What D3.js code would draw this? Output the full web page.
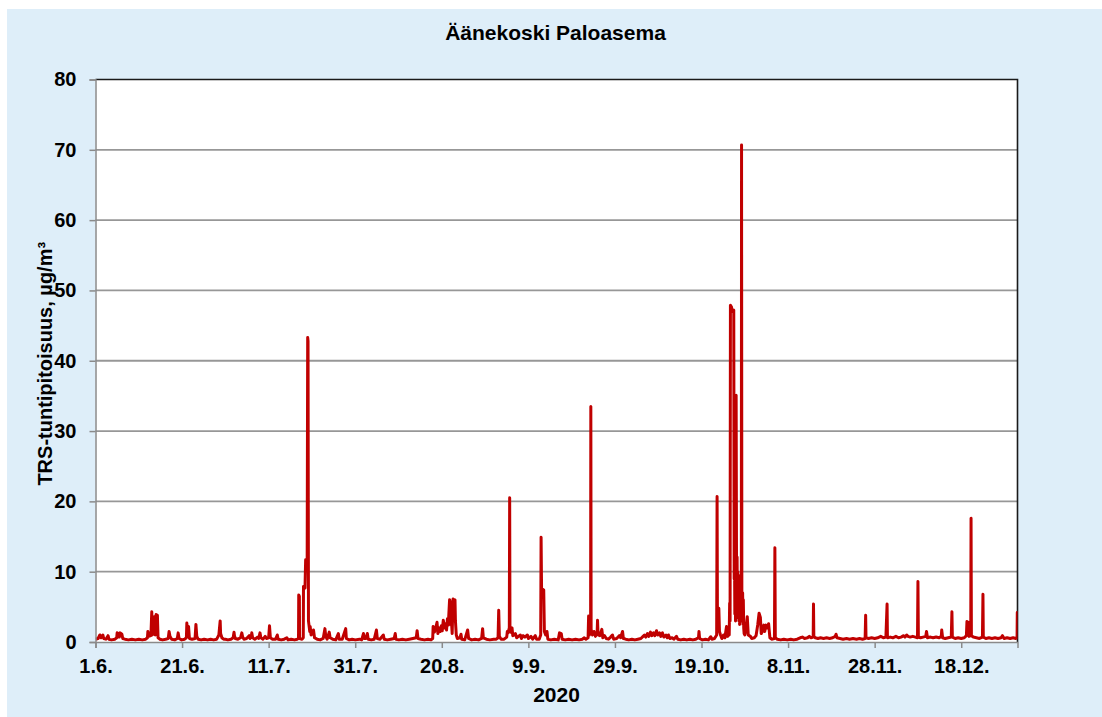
<!DOCTYPE html>
<html>
<head>
<meta charset="utf-8">
<script src="https://cdn.jsdelivr.net/npm/d3@7"></script>
<style>
  html, body { margin: 0; padding: 0; background: #ffffff; }
  svg { display: block; }
  text { font-family: "Liberation Sans", Arial, sans-serif; font-weight: bold; fill: #000; }
</style>
</head>
<body>
<svg id="chart" width="1102" height="717"></svg>
<script>
// Hourly TRS concentration, Äänekoski fire station, summer–winter 2020
const chartTitle = "Äänekoski Paloasema";
const yTitle = "TRS-tuntipitoisuus, µg/m³";
const xTitle = "2020";
const year = 2020;
const yTicks = [0, 10, 20, 30, 40, 50, 60, 70, 80];
const xTickLabels = ["1.6.", "21.6.", "11.7.", "31.7.", "20.8.", "9.9.", "29.9.", "19.10.", "8.11.", "28.11.", "18.12."];

// Readings per month: [day of month (fractional = time of day), µg/m³]
const june = [
  [1.0,0.4],[1.6,0.5],[2.0,1.0],[2.3,0.6],[2.7,1.0],[2.9,0.5],[3.4,0.4],[3.9,0.9],[4.1,0.4],[4.7,0.3],
  [5.5,0.4],[5.9,0.6],[6.0,1.3],[6.3,1.2],[6.5,0.7],[6.7,1.3],[7.1,1.1],[7.3,0.5],[7.8,0.4],[8.6,0.3],
  [9.4,0.4],[10.2,0.3],[11.0,0.4],[11.8,0.3],[12.6,0.4],[13.0,0.6],[13.1,1.5],[13.3,0.8],[13.8,0.9],[14.0,4.3],
  [14.1,1.0],[14.4,1.2],[14.6,3.6],[14.8,1.0],[15.0,3.9],[15.3,3.8],[15.45,0.6],[15.9,0.4],[16.5,0.3],[17.2,0.4],
  [17.8,0.5],[18.0,1.5],[18.2,0.8],[18.6,0.4],[19.3,0.3],[19.9,0.5],[20.1,1.3],[20.3,0.5],[20.9,0.3],[21.6,0.4],
  [22.0,0.6],[22.1,2.7],[22.3,1.0],[22.5,2.2],[22.7,0.5],[23.3,0.4],[24.0,0.5],[24.2,2.5],[24.4,0.8],[24.7,0.4],
  [25.4,0.3],[26.1,0.4],[26.9,0.3],[27.6,0.4],[28.3,0.3],[29.0,0.4],[29.5,1.0],[29.8,3.0],[29.9,1.2],[30.2,0.6],
  [30.6,0.4]
];
const july = [
  [1.0,0.4],[1.6,0.3],[2.3,0.4],[2.8,0.6],[3.0,1.4],[3.1,0.9],[3.3,0.5],[3.9,0.4],[4.5,0.6],[4.8,1.3],
  [5.0,0.7],[5.3,0.4],[5.9,0.5],[6.5,0.9],[6.7,0.5],[7.0,0.8],[7.1,1.3],[7.3,0.6],[7.8,0.4],[8.5,0.7],
  [8.7,0.5],[9.0,1.3],[9.2,0.6],[9.7,0.4],[10.2,0.8],[10.5,0.5],[11.0,0.6],[11.2,2.3],[11.4,0.6],[11.9,0.4],
  [12.6,0.4],[13.0,1.0],[13.2,0.4],[13.9,0.3],[14.6,0.4],[15.2,0.6],[15.5,0.3],[16.2,0.4],[17.0,0.3],[17.6,0.4],
  [17.9,0.5],[17.95,6.7],[18.1,6.5],[18.15,0.5],[18.7,0.4],[19.0,0.6],[19.05,7.9],[19.4,7.7],[19.55,11.7],[19.9,11.0],
  [20.02,43.3],[20.1,42.8],[20.2,3.0],[20.5,1.5],[20.6,2.2],[20.8,1.0],[21.1,1.2],[21.36,1.7],[21.6,0.6],[22.2,0.4],
  [22.9,0.3],[23.6,0.5],[24.0,1.9],[24.2,0.8],[24.5,0.4],[25.0,1.4],[25.2,0.6],[25.8,0.4],[26.5,0.3],[27.1,1.2],
  [27.3,0.4],[28.0,0.4],[28.8,1.9],[28.95,0.5],[29.6,0.3],[30.3,0.4],[31.0,0.3]
];
const august = [
  [1.0,0.4],[1.5,0.3],[1.9,1.2],[2.1,0.5],[2.5,0.5],[2.8,1.2],[3.0,0.4],[3.7,0.3],[4.4,0.4],[4.9,1.7],
  [5.1,0.5],[5.7,0.4],[6.5,1.0],[6.7,0.4],[7.4,0.3],[8.2,0.4],[9.0,0.5],[9.25,1.2],[9.4,0.4],[10.1,0.3],
  [10.9,0.4],[11.7,0.3],[12.5,0.4],[13.3,0.5],[14.1,0.6],[14.3,1.6],[14.5,0.5],[15.2,0.4],[16.0,0.3],[16.8,0.4],
  [17.5,0.3],[17.9,0.5],[18.0,2.2],[18.3,1.4],[18.6,2.0],[18.9,2.8],[19.1,1.2],[19.4,2.0],[19.65,1.5],[19.9,2.3],
  [20.1,1.6],[20.35,3.1],[20.6,2.0],[20.9,2.6],[21.1,1.7],[21.3,3.3],[21.5,2.4],[21.8,6.0],[21.9,5.8],[22.0,2.5],
  [22.2,3.3],[22.4,1.2],[22.6,6.1],[22.8,5.5],[23.05,6.0],[23.15,3.0],[23.35,1.0],[23.6,0.5],[24.2,0.6],[24.44,1.1],
  [24.6,0.4],[25.3,0.3],[25.97,1.7],[26.2,0.5],[26.9,0.3],[27.7,0.4],[28.5,0.3],[29.2,0.5],[29.43,1.9],[29.6,0.6],
  [30.3,0.4],[31.1,0.3]
];
const september = [
  [1.0,0.4],[1.6,0.4],[2.0,0.6],[2.15,4.5],[2.3,0.8],[2.7,0.4],[3.4,0.4],[4.0,0.7],[4.14,1.5],[4.3,1.3],
  [4.6,2.0],[4.68,20.5],[4.75,2.2],[4.9,1.4],[5.23,2.0],[5.4,0.9],[5.7,1.0],[6.0,1.2],[6.3,0.6],[6.7,0.8],
  [7.15,1.0],[7.4,0.5],[7.8,0.9],[8.2,0.7],[8.77,1.0],[9.0,0.5],[9.6,0.8],[10.0,0.4],[10.6,0.9],[10.9,0.4],
  [11.5,0.4],[11.85,1.0],[11.94,14.9],[12.05,7.6],[12.55,7.4],[12.7,1.5],[13.0,1.0],[13.3,1.5],[13.5,0.4],[14.2,0.3],
  [15.0,0.4],[15.9,0.3],[16.2,1.3],[16.6,1.2],[16.8,0.4],[17.5,0.3],[18.3,0.4],[19.1,0.3],[19.9,0.4],[20.7,0.3],
  [21.5,0.4],[21.86,0.6],[22.3,0.4],[22.8,0.6],[22.92,3.7],[23.1,1.0],[23.38,1.5],[23.43,33.5],[23.5,1.8],[23.8,1.0],
  [24.17,1.5],[24.5,0.8],[24.9,1.5],[24.98,3.1],[25.1,1.0],[25.5,0.9],[25.97,1.8],[26.2,0.6],[26.6,0.9],[27.0,0.5],
  [27.5,0.4],[28.0,0.7],[28.42,1.0],[28.7,0.4],[29.4,0.5],[30.0,0.9],[30.3,0.6],[30.76,1.5],[30.95,0.5]
];
const october = [
  [1.0,0.5],[1.5,0.4],[2.2,0.3],[2.9,0.4],[3.6,0.3],[4.3,0.4],[5.0,0.5],[5.5,0.8],[5.82,1.0],[6.1,0.7],
  [6.5,1.2],[6.8,0.8],[7.21,1.4],[7.5,0.9],[7.9,1.3],[8.2,0.9],[8.6,1.6],[8.9,1.0],[9.3,1.3],[9.6,0.8],
  [9.98,1.3],[10.3,0.7],[10.8,1.0],[11.1,0.6],[11.37,1.0],[11.7,0.5],[12.2,0.6],[12.6,0.4],[13.22,0.8],[13.5,0.4],
  [14.2,0.3],[14.9,0.4],[15.6,0.3],[16.3,0.4],[17.0,0.3],[17.7,0.4],[18.3,0.6],[18.42,1.5],[18.55,0.5],[19.2,0.3],
  [19.9,0.4],[20.6,0.3],[21.13,0.75],[21.4,0.4],[22.0,0.5],[22.5,1.0],[22.6,20.7],[22.68,3.0],[23.0,4.8],[23.15,1.5],
  [23.39,1.0],[23.7,0.5],[24.09,1.0],[24.4,0.6],[24.78,2.2],[25.0,0.8],[25.3,1.0],[25.4,1.0],[25.5,5.5],[25.6,3.0],
  [25.68,47.9],[25.95,47.6],[26.05,47.0],[26.45,47.2],[26.55,9.0],[26.62,12.6],[26.7,4.0],[26.78,11.0],[26.86,3.0],[26.94,10.5],
  [27.0,35.1],[27.08,13.0],[27.15,5.0],[27.22,12.1],[27.3,3.5],[27.38,10.0],[27.46,4.0],[27.55,9.5],[27.64,3.0],[27.72,6.4],
  [27.8,2.5],[27.9,7.0],[28.0,3.0],[28.1,6.0],[28.2,4.0],[28.25,70.7],[28.32,6.5],[28.4,3.0],[28.5,7.0],[28.58,2.5],
  [28.66,6.0],[28.75,2.0],[28.85,1.2],[29.0,1.0],[29.3,2.0],[29.57,3.6],[29.8,1.0],[30.3,0.8],[30.6,0.5],[31.2,0.6],
  [31.6,0.9]
];
const november = [
  [1.0,2.5],[1.3,4.1],[1.6,3.5],[1.8,1.2],[2.1,1.6],[2.4,2.4],[2.6,1.5],[2.9,2.4],[3.2,2.0],[3.5,2.6],
  [3.8,0.6],[4.2,0.4],[4.85,0.5],[4.95,13.4],[5.05,0.6],[5.5,0.4],[6.3,0.3],[7.0,0.4],[7.8,0.3],[8.6,0.4],
  [9.3,0.3],[10.1,0.4],[10.8,0.6],[11.3,0.7],[11.8,0.5],[12.5,0.6],[12.9,0.8],[13.3,0.6],[13.8,0.7],[13.87,5.4],
  [13.95,0.8],[14.3,0.6],[14.9,0.5],[15.5,0.6],[16.2,0.5],[16.9,0.6],[17.6,0.5],[18.3,0.6],[18.9,0.8],[19.08,1.1],
  [19.3,0.6],[20.0,0.5],[20.7,0.4],[21.5,0.5],[22.2,0.4],[23.0,0.5],[23.8,0.4],[24.5,0.5],[25.2,0.4],[25.8,0.5],
  [25.92,3.8],[26.0,0.6],[26.6,0.5],[27.3,0.6],[28.0,0.5],[28.7,0.6],[29.4,0.8],[30.0,0.6],[30.6,0.7],[30.87,5.4],
  [30.95,0.8]
];
const december = [
  [1.0,0.6],[1.6,0.7],[2.2,0.6],[2.9,0.8],[3.5,0.6],[4.1,0.7],[4.7,0.9],[5.0,0.7],[5.4,1.0],[5.7,0.8],
  [6.2,0.7],[6.8,0.8],[7.4,0.7],[7.9,0.6],[8.0,8.6],[8.1,0.7],[8.6,0.6],[9.2,0.7],[9.8,0.8],[9.98,1.5],
  [10.2,0.6],[10.9,0.7],[11.5,0.6],[12.2,0.7],[12.9,0.6],[13.4,0.8],[13.49,1.7],[13.7,0.6],[14.3,0.5],[15.0,0.6],
  [15.7,0.7],[15.85,4.3],[15.95,0.7],[16.6,0.5],[17.3,0.6],[18.0,0.5],[18.7,0.6],[19.2,0.9],[19.32,2.9],[19.5,1.0],
  [19.66,2.8],[19.8,0.8],[20.2,0.9],[20.27,17.6],[20.35,0.9],[20.8,0.7],[21.5,0.6],[22.2,0.5],[22.9,0.7],[23.02,6.8],
  [23.1,0.7],[23.7,0.5],[24.4,0.6],[25.1,0.5],[25.8,0.6],[26.5,0.5],[27.2,0.6],[27.53,0.9],[27.9,0.5],[28.6,0.6],
  [29.3,0.5],[30.0,0.6],[30.6,0.5],[30.9,0.6],[30.95,4.2],[31.0,4.0]
];

const monthSeries = [[5, june], [6, july], [7, august], [8, september], [9, october], [10, november], [11, december]];

const DAY = 86400000;
const readings = monthSeries.flatMap(([m, rows]) =>
  rows.map(([d, v]) => ({ t: new Date(Date.UTC(year, m, 1) + (d - 1) * DAY), v }))
);

const tickDates = xTickLabels.map(s => {
  const [d, m] = s.split(".").map(Number);
  return new Date(Date.UTC(year, m - 1, d));
});

// Layout
const svg = d3.select("#chart");
const W = 1102, H = 717;
const plot = { left: 95.5, top: 79.5, right: 1017.5, bottom: 642 };

svg.append("rect").attr("x", 0).attr("y", 0).attr("width", W).attr("height", H).attr("fill", "#ffffff");
svg.append("rect").attr("x", 7).attr("y", 9).attr("width", W - 7).attr("height", H - 9).attr("fill", "#DEEEF9");

const x = d3.scaleUtc()
  .domain([new Date(Date.UTC(year, 5, 1)), new Date(Date.UTC(year, 11, 31))])
  .range([plot.left, plot.right]);
const y = d3.scaleLinear().domain([0, 80]).range([plot.bottom, plot.top]);

svg.append("rect")
  .attr("x", plot.left).attr("y", plot.top)
  .attr("width", plot.right - plot.left).attr("height", plot.bottom - plot.top)
  .attr("fill", "#ffffff");

// Horizontal gridlines
svg.append("g").selectAll("line")
  .data(yTicks.filter(v => v > 0 && v < 80))
  .join("line")
  .attr("x1", plot.left).attr("x2", plot.right)
  .attr("y1", d => y(d)).attr("y2", d => y(d))
  .attr("stroke", "#979797").attr("stroke-width", 1.8);

// Plot frame (top and right)
svg.append("path")
  .attr("d", `M${plot.left},${plot.top}H${plot.right}V${plot.bottom}`)
  .attr("fill", "none").attr("stroke", "#1a1a1a").attr("stroke-width", 1.6);

// Series
svg.append("clipPath").attr("id", "plotClip")
  .append("rect")
  .attr("x", plot.left).attr("y", plot.top - 2)
  .attr("width", plot.right - plot.left).attr("height", plot.bottom - plot.top + 2);

const line = d3.line().x(d => x(d.t)).y(d => y(d.v));
svg.append("path")
  .datum(readings)
  .attr("clip-path", "url(#plotClip)")
  .attr("d", line)
  .attr("fill", "none")
  .attr("stroke", "#C00000")
  .attr("stroke-width", 3)
  .attr("stroke-linejoin", "round");

// Axes
const yAxis = d3.axisLeft(y).tickValues(yTicks).tickSize(6).tickPadding(13).tickFormat(d3.format("d"));
const gy = svg.append("g").attr("transform", `translate(${plot.left},0)`).call(yAxis);
gy.select(".domain").attr("stroke", "#8a8a8a").attr("stroke-width", 1.5);
gy.selectAll(".tick line").attr("stroke", "#8a8a8a").attr("stroke-width", 1.5);
gy.selectAll(".tick text").style("font-size", "20px").attr("fill", "#000");

const xAxis = d3.axisBottom(x).tickValues(tickDates).tickSize(6).tickPadding(11)
  .tickFormat((d, i) => xTickLabels[i]);
const gx = svg.append("g").attr("transform", `translate(0,${plot.bottom})`).call(xAxis);
gx.select(".domain").attr("stroke", "#8a8a8a").attr("stroke-width", 1.5);
gx.selectAll(".tick line").attr("stroke", "#8a8a8a").attr("stroke-width", 1.5);
gx.selectAll(".tick text").style("font-size", "20px").attr("fill", "#000");

// Titles
const cx = (plot.left + plot.right) / 2;
svg.append("text").attr("x", cx - 1).attr("y", 40).attr("text-anchor", "middle")
  .style("font-size", "21px").text(chartTitle);
svg.append("text").attr("x", cx).attr("y", 702).attr("text-anchor", "middle")
  .style("font-size", "21px").text(xTitle);
svg.append("text")
  .attr("transform", `translate(52,${(plot.top + plot.bottom) / 2 + 3}) rotate(-90)`)
  .attr("text-anchor", "middle")
  .style("font-size", "20px").text(yTitle);
</script>
</body>
</html>
